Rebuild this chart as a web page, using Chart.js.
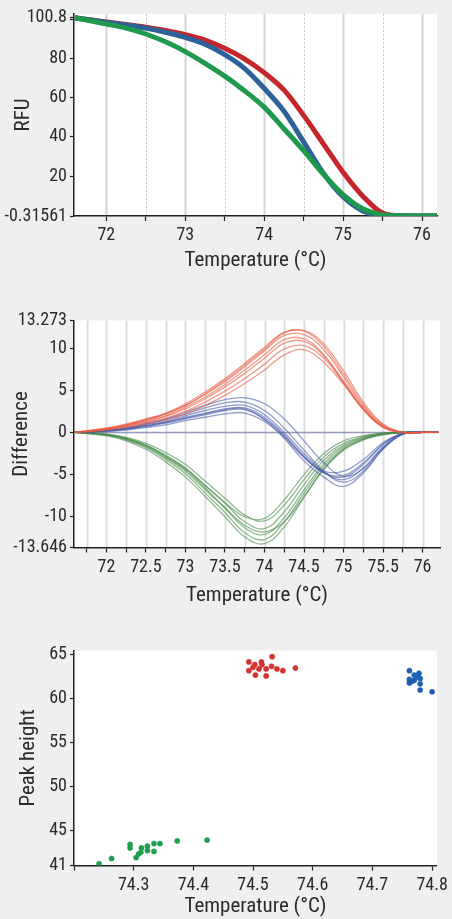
<!DOCTYPE html>
<html><head><meta charset="utf-8">
<script src="https://cdn.jsdelivr.net/npm/chart.js@4/dist/chart.umd.min.js"></script>
<style>
html,body{margin:0;padding:0;background:#eef0ef;}
body{width:452px;height:919px;position:relative;overflow:hidden;}
.box{position:absolute;left:0;width:452px;}
canvas{display:block;}
</style></head><body>
<div class="box" style="top:0"><canvas id="c1" width="452" height="273"></canvas></div>
<div class="box" style="top:300px"><canvas id="c2" width="452" height="308"></canvas></div>
<div class="box" style="top:630px"><canvas id="c3" width="452" height="289"></canvas></div>
<script>
// ---------- DATA ----------
const temps = [71.6,72,72.25,72.5,72.75,73,73.25,73.5,73.75,74,74.25,74.5,74.75,75,75.25,75.5,75.75,76,76.2];

// Panel 1: melt curves (RFU)
const meltRed   = [100.8,98.6,97.4,96.0,94.3,92.2,89.4,85.2,79.8,72.8,64.0,51.0,36.5,22.0,9.8,1.2,-0.2,-0.3,-0.3];
const meltBlue  = [100.8,98.4,97.1,95.5,93.4,90.8,87.3,82.0,75.0,64.8,53.2,37.5,21.5,9.5,2.3,-0.1,-0.3,-0.3,-0.3];
const meltGreen = [100.8,97.6,95.5,92.5,88.5,83.5,77.5,71.0,63.6,55.2,44.2,33.0,21.0,10.6,3.4,0.3,-0.3,-0.3,-0.3];
const rfuTicks = [-0.31561,20,40,60,80,100,100.8];
const tempTicks1 = [72,72.5,73,73.5,74,74.5,75,75.5,76];

// Panel 2: difference curves (replicates)
const diffRed = [
  [0,0.3,0.6,1.0,1.5,2.2,3.2,4.4,5.8,7.4,9.2,9.8,8.3,5.7,2.7,0.6,0,0,0],
  [0,0.3,0.7,1.2,1.7,2.5,3.6,4.9,6.4,8.1,9.9,10.3,8.8,5.9,2.8,0.7,0,0,0],
  [0,0.4,0.8,1.3,1.9,2.8,4.0,5.4,7.0,8.8,10.6,10.8,9.1,6.1,2.9,0.7,0,0,0],
  [0,0.4,0.8,1.4,2.0,3.0,4.2,5.7,7.4,9.2,11.0,11.1,9.2,5.9,2.7,0.6,0,0,0],
  [0,0.5,0.9,1.5,2.2,3.2,4.5,6.0,7.8,9.7,11.5,11.6,9.8,6.6,3.1,0.8,0,0,0],
  [0,0.5,1.0,1.6,2.3,3.4,4.8,6.4,8.2,10.1,11.9,12.0,10.2,6.9,3.3,0.9,0,0,0],
  [0,0.4,0.9,1.5,2.2,3.2,4.6,6.2,8.0,9.9,11.8,12.1,10.5,7.3,3.6,1.0,0,0,0]
];
const diffBlue = [
  [0,0.1,0.3,0.6,0.9,1.4,1.8,2.2,2.3,1.3,-0.6,-3.0,-4.6,-4.6,-3.2,-1.2,-0.1,0,0],
  [0,0.2,0.4,0.7,1.1,1.6,2.1,2.6,2.7,1.6,-0.4,-2.9,-4.8,-5.1,-3.6,-1.4,-0.1,0,0],
  [0,0.2,0.4,0.8,1.2,1.8,2.3,2.8,2.9,1.8,-0.3,-2.8,-4.8,-5.3,-3.8,-1.4,-0.1,0,0],
  [0,0.2,0.5,0.9,1.3,2.0,2.6,3.1,3.2,2.1,0.0,-2.5,-4.7,-5.6,-4.2,-1.7,-0.1,0,0],
  [0,0.3,0.5,1.0,1.5,2.2,2.9,3.5,3.6,2.6,0.5,-2.1,-4.6,-5.9,-4.6,-1.9,-0.2,0,0],
  [0,0.3,0.6,1.1,1.6,2.4,3.2,3.9,4.1,3.4,1.6,-1.0,-3.6,-5.2,-4.3,-1.8,-0.2,0,0],
  [0,0.2,0.4,0.8,1.2,1.7,2.2,2.7,2.8,1.5,-0.7,-3.4,-5.3,-6.4,-4.8,-2.0,-0.2,0,0]
];
const diffGreen = [
  [0,-0.2,-0.6,-1.3,-2.4,-3.8,-5.8,-7.8,-9.8,-10.5,-8.6,-5.6,-2.9,-1.3,-0.5,-0.1,0,0,0],
  [0,-0.3,-0.7,-1.5,-2.7,-4.2,-6.3,-8.4,-10.6,-11.4,-9.4,-6.2,-3.3,-1.5,-0.6,-0.2,0,0,0],
  [0,-0.3,-0.8,-1.7,-3.0,-4.6,-6.8,-9.0,-11.3,-12.1,-10.1,-6.8,-3.7,-1.7,-0.7,-0.2,0,0,0],
  [0,-0.3,-0.9,-1.8,-3.2,-4.9,-7.2,-9.5,-11.9,-12.7,-10.6,-7.2,-4.0,-1.9,-0.8,-0.2,0,0,0],
  [0,-0.4,-1.0,-2.0,-3.5,-5.3,-7.6,-10.0,-12.4,-13.2,-11.2,-7.7,-4.4,-2.1,-0.9,-0.3,0,0,0],
  [0,-0.3,-0.8,-1.6,-2.9,-4.4,-6.6,-8.9,-11.0,-11.8,-10.6,-7.6,-4.3,-2.0,-0.8,-0.2,0,0,0],
  [0,-0.2,-0.7,-1.5,-2.8,-4.3,-6.3,-8.3,-10.0,-10.2,-8.0,-5.0,-2.5,-1.0,-0.4,-0.1,0,0,0]
];
const diffReference = [0,0,0,0,0,0,0,0,0,0,0,0,0,0,0,0,0,0,0];
const diffTicks = [-13.646,-10,-5,0,5,10,13.273];
const tempTicks2 = [71.75,72,72.25,72.5,72.75,73,73.25,73.5,73.75,74,74.25,74.5,74.75,75,75.25,75.5,75.75,76];

// Panel 3: peak height scatter
const peakRedT   = [74.493,74.493,74.503,74.504,74.514,74.515,74.522,74.522,74.532,74.531,74.540,74.550,74.571,74.500,74.510];
const peakRedH   = [64.2,63.2,63.9,62.7,64.2,63.9,63.4,62.6,64.8,63.7,63.4,63.2,63.5,63.6,63.4];
const peakBlueT  = [74.762,74.762,74.762,74.770,74.770,74.778,74.780,74.780,74.780,74.800,74.775,74.766];
const peakBlueH  = [63.2,62.2,61.8,62.7,62.1,62.9,62.3,61.7,61.0,60.8,62.5,62.0];
const peakGreenT = [74.242,74.263,74.294,74.294,74.304,74.312,74.313,74.323,74.323,74.334,74.334,74.344,74.373,74.423,74.308];
const peakGreenH = [41.2,41.8,43.4,43.0,41.9,42.5,43.0,43.2,42.7,43.5,42.6,43.5,43.8,43.9,42.3];
const peakTicks = [41,45,50,55,60,65];
const tempTicks3 = [74.2,74.3,74.4,74.5,74.6,74.7,74.8];

// ---------- STYLE / HELPERS ----------
const FAM = "'Roboto Condensed', Roboto, 'DejaVu Sans Condensed', sans-serif";
const TXT = '#2b2b2b';
const tickFont = {family: FAM, size: 18};
const titleFont = {family: FAM, size: 21};
Chart.defaults.font.family = FAM;
Chart.defaults.color = TXT;

const plotBg = {
  id: 'plotBg',
  beforeDraw(chart, args, opts) {
    const {ctx, chartArea: a} = chart;
    const x = chart.scales.x;
    ctx.save();
    ctx.fillStyle = '#ffffff';
    ctx.fillRect(a.left, a.top, a.right - a.left, a.bottom - a.top);
    (opts.lines || []).forEach(g => {
      const px = Math.round(x.getPixelForValue(g.v)) + 0.5;
      ctx.beginPath();
      ctx.strokeStyle = g.c; ctx.lineWidth = g.w; ctx.setLineDash(g.d || []);
      ctx.moveTo(px, a.top); ctx.lineTo(px, a.bottom); ctx.stroke();
    });
    ctx.restore();
  }
};

function xyData(xs, ys) { return xs.map((t, i) => ({x: t, y: ys[i]})); }

function axisX(min, max, ticks, labelFn, titleText, height) {
  return {
    type: 'linear', min, max,
    afterBuildTicks: s => { s.ticks = ticks.map(v => ({value: v})); },
    afterFit: s => { s.height = height; },
    ticks: {autoSkip: false, maxRotation: 0, minRotation: 0, font: tickFont, color: TXT, padding: 4,
            callback: v => labelFn(v)},
    grid: {drawOnChartArea: false, drawTicks: true, tickLength: 5, tickColor: '#222', tickWidth: 1.2},
    border: {color: '#222', width: 1.5},
    title: {display: true, text: titleText, font: titleFont, color: TXT, padding: {top: 0, bottom: 0}}
  };
}
function axisY(min, max, ticks, labelFn, titleText, titlePad) {
  return {
    type: 'linear', min, max,
    afterBuildTicks: s => { s.ticks = ticks.map(v => ({value: v})); },
    afterFit: s => { s.width = 74; },
    ticks: {autoSkip: false, font: tickFont, color: TXT, padding: 3, callback: v => labelFn(v)},
    grid: {drawOnChartArea: false, drawTicks: true, tickLength: 4, tickColor: '#222', tickWidth: 1.2},
    border: {color: '#222', width: 1.5},
    title: {display: true, text: titleText, font: titleFont, color: TXT, padding: {top: titlePad, bottom: 0}}
  };
}

// ---------- CHART 1 ----------
const grid1 = [];
[72,73,74,75,76].forEach(v => grid1.push({v, c: '#d4d4d4', w: 2}));
[72.5,73.5,74.5,75.5].forEach(v => grid1.push({v, c: '#c4c4c4', w: 1, d: [2,2]}));

new Chart(document.getElementById('c1'), {
  type: 'line',
  data: {datasets: [
    {label: 'Green', data: xyData(temps, meltGreen), borderColor: '#1f9a4c', borderWidth: 5},
    {label: 'Blue',  data: xyData(temps, meltBlue),  borderColor: '#2d6199', borderWidth: 5},
    {label: 'Red',   data: xyData(temps, meltRed),   borderColor: '#c4262b', borderWidth: 5}
  ]},
  options: {
    responsive: false, animation: false,
    layout: {padding: {top: 12, right: 15, left: 0, bottom: 0}},
    elements: {point: {radius: 0}, line: {cubicInterpolationMode: 'monotone'}},
    plugins: {legend: {display: false}, tooltip: {enabled: false}, plotBg: {lines: grid1}},
    scales: {
      x: axisX(71.59, 76.19, tempTicks1, v => Number.isInteger(v) ? String(v) : '', 'Temperature (°C)', 57),
      y: axisY(-0.31561, 102.8, rfuTicks, v => v === 100 ? '' : String(v), 'RFU', 11)
    }
  },
  plugins: [plotBg]
});

// ---------- CHART 2 ----------
const grid2 = tempTicks2.map(v => ({v, c: '#dedede', w: 2}));
const ds2 = [];
diffRed.forEach((r, i) => ds2.push({label: 'Red ' + (i + 1), data: xyData(temps, r), borderColor: 'rgba(232,88,64,0.6)', borderWidth: 1.3}));
diffBlue.forEach((r, i) => ds2.push({label: 'Blue ' + (i + 1), data: xyData(temps, r), borderColor: 'rgba(72,92,172,0.6)', borderWidth: 1.3}));
diffGreen.forEach((r, i) => ds2.push({label: 'Green ' + (i + 1), data: xyData(temps, r), borderColor: 'rgba(70,140,72,0.6)', borderWidth: 1.3}));
ds2.push({label: 'Reference', data: xyData(temps, diffReference), borderColor: 'rgba(120,120,170,0.75)', borderWidth: 1.5});

new Chart(document.getElementById('c2'), {
  type: 'line',
  data: {datasets: ds2},
  options: {
    responsive: false, animation: false,
    layout: {padding: {top: 20.5, right: 12, left: 0, bottom: 0}},
    elements: {point: {radius: 0}, line: {tension: 0.4}},
    plugins: {legend: {display: false}, tooltip: {enabled: false}, plotBg: {lines: grid2}},
    scales: {
      x: axisX(71.59, 76.22, tempTicks2, v => (Math.round(v * 2) === v * 2 && v >= 72) ? String(v) : '', 'Temperature (°C)', 60.5),
      y: axisY(-13.646, 13.273, diffTicks, v => String(v), 'Difference', 9.5)
    }
  },
  plugins: [plotBg]
});

// ---------- CHART 3 ----------
new Chart(document.getElementById('c3'), {
  type: 'scatter',
  data: {datasets: [
    {label: 'Green', data: xyData(peakGreenT, peakGreenH), backgroundColor: '#1e9e4e', borderColor: 'rgba(30,158,78,0.5)'},
    {label: 'Red',   data: xyData(peakRedT, peakRedH),     backgroundColor: '#d5322f', borderColor: 'rgba(213,50,47,0.5)'},
    {label: 'Blue',  data: xyData(peakBlueT, peakBlueH),   backgroundColor: '#1f5fb0', borderColor: 'rgba(31,95,176,0.5)'}
  ]},
  options: {
    responsive: false, animation: false,
    layout: {padding: {top: 20.5, right: 15, left: 0, bottom: 0}},
    elements: {point: {radius: 2.6, borderWidth: 1}},
    plugins: {legend: {display: false}, tooltip: {enabled: false}, plotBg: {lines: []}},
    scales: {
      x: axisX(74.2, 74.808, tempTicks3, v => v > 74.25 ? v.toFixed(1) : '', 'Temperature (°C)', 53.5),
      y: axisY(41, 65.5, peakTicks, v => String(v), 'Peak height', 16)
    }
  },
  plugins: [plotBg]
});
</script>
</body></html>
